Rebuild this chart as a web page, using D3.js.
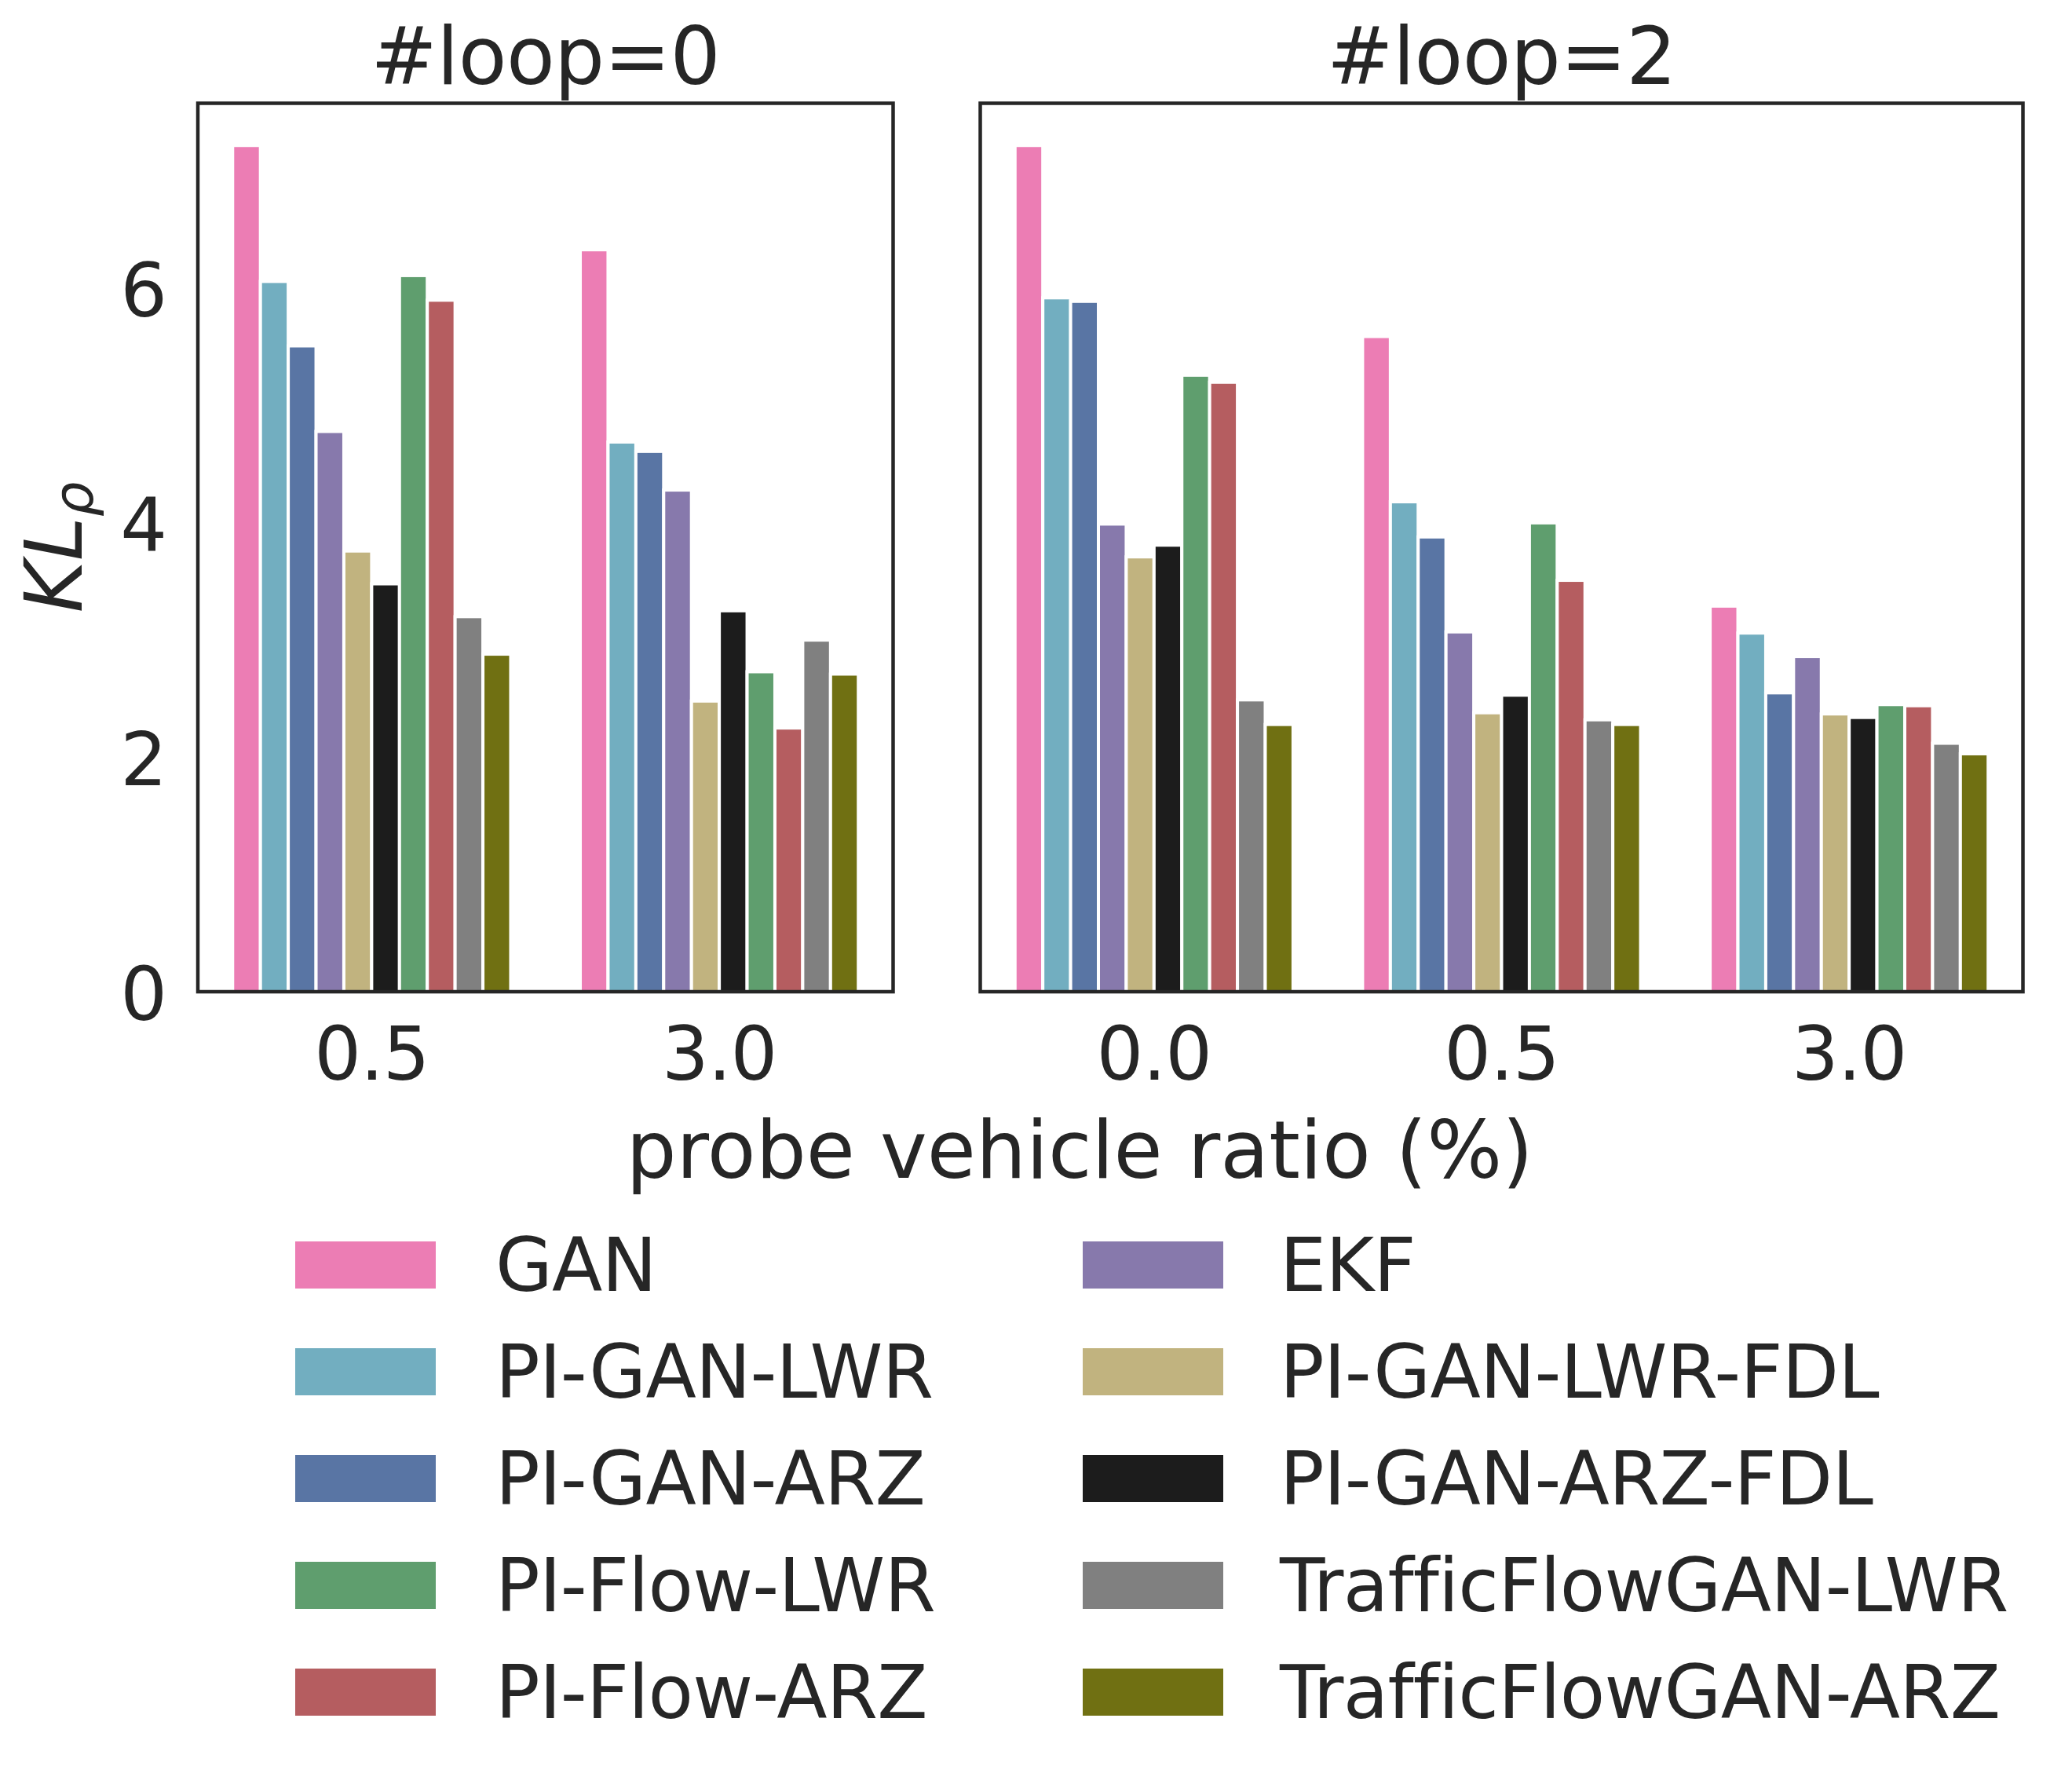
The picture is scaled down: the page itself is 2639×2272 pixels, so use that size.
<!DOCTYPE html>
<html>
<head>
<meta charset="utf-8">
<script src="https://cdn.jsdelivr.net/npm/d3@7"></script>
<style>
  html, body { margin: 0; padding: 0; background: #ffffff; }
  svg { display: block; }
  text { font-family: "DejaVu Sans", sans-serif; fill: #262626; }
</style>
</head>
<body>
<svg id="chart" width="2639" height="2272"></svg>
<script>
// ---------------- data ----------------
const methods = ["GAN", "PI-GAN-LWR", "PI-GAN-ARZ", "EKF", "PI-GAN-LWR-FDL",
                 "PI-GAN-ARZ-FDL", "PI-Flow-LWR", "PI-Flow-ARZ",
                 "TrafficFlowGAN-LWR", "TrafficFlowGAN-ARZ"];
const colors = ["#ec7db4", "#72aec0", "#5975a4", "#8779ac", "#c1b37f",
                "#1c1c1c", "#5f9e6e", "#b55d60", "#808080", "#707012"];
const legendCol1 = ["GAN", "PI-GAN-LWR", "PI-GAN-ARZ", "PI-Flow-LWR", "PI-Flow-ARZ"];
const legendCol2 = ["EKF", "PI-GAN-LWR-FDL", "PI-GAN-ARZ-FDL", "TrafficFlowGAN-LWR", "TrafficFlowGAN-ARZ"];

const loop0Categories = ["0.5", "3.0"];
const loop2Categories = ["0.0", "0.5", "3.0"];

// values per category, in the order of `methods`
const loop0_r05 = [7.22, 6.06, 5.51, 4.78, 3.76, 3.48, 6.11, 5.90, 3.20, 2.88];
const loop0_r30 = [6.33, 4.69, 4.61, 4.28, 2.48, 3.25, 2.73, 2.25, 3.00, 2.71];
const loop2_r00 = [7.22, 5.92, 5.89, 3.99, 3.71, 3.81, 5.26, 5.20, 2.49, 2.28];
const loop2_r05 = [5.59, 4.18, 3.88, 3.07, 2.38, 2.53, 4.00, 3.51, 2.32, 2.28];
const loop2_r30 = [3.29, 3.06, 2.55, 2.86, 2.37, 2.34, 2.45, 2.44, 2.12, 2.03];

const yTicks = [0, 2, 4, 6];
const yMax = 7.58;

const panels = [
  { title: "#loop=0", cats: loop0Categories, values: [loop0_r05, loop0_r30], x0: 252, x1: 1137.5, yLabels: true },
  { title: "#loop=2", cats: loop2Categories, values: [loop2_r00, loop2_r05, loop2_r30], x0: 1248.5, x1: 2576.5, yLabels: false }
];

// ---------------- drawing ----------------
const svg = d3.select("#chart");
const plotTop = 131.5, plotBottom = 1263;
const y = d3.scaleLinear().domain([0, yMax]).range([plotBottom, plotTop]);
const color = d3.scaleOrdinal().domain(methods).range(colors);

panels.forEach(p => {
  const g = svg.append("g");
  const x = d3.scaleBand().domain(p.cats).range([p.x0, p.x1]).paddingInner(0.2).paddingOuter(0.1);
  const xi = d3.scaleBand().domain(methods).range([0, x.bandwidth()]).padding(0);

  p.cats.forEach((c, ci) => {
    const vals = p.values[ci];
    g.selectAll(null)
      .data(methods.map((m, i) => ({ m, v: vals[i] })))
      .enter().append("rect")
      .attr("x", d => x(c) + xi(d.m))
      .attr("y", d => y(d.v))
      .attr("width", xi.bandwidth())
      .attr("height", d => y(0) - y(d.v))
      .attr("fill", d => color(d.m))
      .attr("stroke", "#ffffff")
      .attr("stroke-width", 4);
  });

  // x axis tick labels
  const xAxis = d3.axisBottom(x).tickSize(0).tickPadding(0);
  const xg = g.append("g").attr("transform", `translate(0,${plotBottom})`).call(xAxis);
  xg.select(".domain").remove();
  xg.selectAll("text")
    .attr("y", 112).attr("dy", 0)
    .style("font-size", "94px").style("font-family", "DejaVu Sans")
    .style("letter-spacing", "-1px").attr("fill", "#262626");

  // y axis tick labels
  if (p.yLabels) {
    const yAxis = d3.axisLeft(y).tickValues(yTicks).tickSize(0).tickPadding(0).tickFormat(d3.format("d"));
    const yg = g.append("g").attr("transform", `translate(213,0)`).call(yAxis);
    yg.select(".domain").remove();
    yg.selectAll("text")
      .attr("x", 0).attr("dy", 35)
      .style("font-size", "94px").style("font-family", "DejaVu Sans").attr("fill", "#262626");
  }

  // frame
  g.append("rect")
    .attr("x", p.x0).attr("y", plotTop)
    .attr("width", p.x1 - p.x0).attr("height", plotBottom - plotTop)
    .attr("fill", "none").attr("stroke", "#262626").attr("stroke-width", 4.5);

  // title
  g.append("text")
    .attr("x", (p.x0 + p.x1) / 2).attr("y", 107)
    .attr("text-anchor", "middle")
    .style("font-size", "101px")
    .style("letter-spacing", "-0.6px")
    .text(p.title);
});

// x label
svg.append("text")
  .attr("x", 1375).attr("y", 1500)
  .attr("text-anchor", "middle")
  .style("font-size", "101px")
  .text("probe vehicle ratio (%)");

// y label (KL_rho, italic)
const yl = svg.append("text")
  .attr("transform", "translate(104,697) rotate(-90)")
  .attr("text-anchor", "middle")
  .style("font-size", "101px")
  .style("font-style", "italic");
yl.append("tspan").text("KL");
yl.append("tspan").attr("dy", 14).style("font-size", "70px").text("ρ");

// legend
const legendCols = [
  { items: legendCol1, sx: 376, tx: 631 },
  { items: legendCol2, sx: 1379, tx: 1630 }
];
const rowY = d3.scaleLinear().domain([0, 1]).range([1611, 1747]);
legendCols.forEach(col => {
  const lg = svg.append("g");
  col.items.forEach((name, i) => {
    const cy = rowY(i);
    lg.append("rect")
      .attr("x", col.sx).attr("y", cy - 30)
      .attr("width", 179).attr("height", 60)
      .attr("fill", color(name));
    lg.append("text")
      .attr("x", col.tx).attr("y", cy + 33)
      .style("font-size", "94px")
      .style("letter-spacing", "-0.8px")
      .text(name);
  });
});
</script>
</body>
</html>
